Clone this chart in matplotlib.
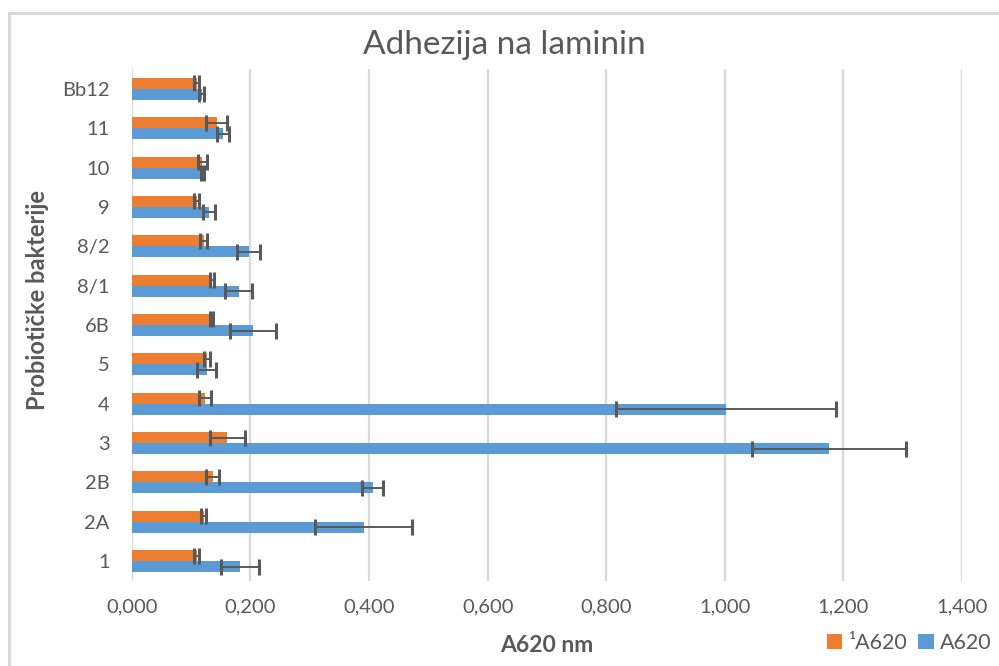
import matplotlib
matplotlib.use("Agg")
import matplotlib.pyplot as plt
import numpy as np
from matplotlib.patches import Rectangle
from matplotlib.ticker import FuncFormatter

# bottom -> top
categories = ["1", "2A", "2B", "3", "4", "5", "6B", "8/1", "8/2", "9", "10", "11", "Bb12"]
a620_sup = [0.109, 0.121, 0.136, 0.161, 0.123, 0.126, 0.134, 0.135, 0.121, 0.109, 0.119, 0.143, 0.109]
a620_sup_err = [0.004, 0.004, 0.011, 0.029, 0.010, 0.005, 0.002, 0.003, 0.006, 0.004, 0.007, 0.018, 0.004]
a620 = [0.182, 0.391, 0.406, 1.175, 1.002, 0.126, 0.204, 0.180, 0.197, 0.130, 0.119, 0.153, 0.118]
a620_err = [0.032, 0.082, 0.018, 0.130, 0.186, 0.016, 0.039, 0.023, 0.019, 0.010, 0.003, 0.010, 0.004]
xticks = [0.0, 0.2, 0.4, 0.6, 0.8, 1.0, 1.2, 1.4]

ORANGE = "#ED7D31"
BLUE = "#5B9BD5"
GREY = "#595959"
plt.rcParams["font.family"] = ["Lato", "DejaVu Sans"]

fig = plt.figure(figsize=(9.99, 6.66), dpi=100)
ax = fig.add_axes([0.132, 0.128, 0.831, 0.768])

y = np.arange(len(categories))
h = 0.28
ebar = dict(ecolor=GREY, elinewidth=1.4, capsize=5.5, capthick=2.2)
ax.barh(y + h / 2, a620_sup, height=h, color=ORANGE, xerr=a620_sup_err,
        error_kw=ebar, label="¹A620", zorder=3)
ax.barh(y - h / 2, a620, height=h, color=BLUE, xerr=a620_err,
        error_kw=ebar, label="A620", zorder=3)

ax.set_xlim(0, 1.4)
ax.set_ylim(-0.5, len(categories) - 0.5)
ax.set_xticks(xticks)
ax.xaxis.set_major_formatter(FuncFormatter(lambda v, p: f"{v:.3f}".replace(".", ",")))
ax.set_yticks(y)
ax.set_yticklabels(categories)
ax.grid(axis="x", color="#D9D9D9", linewidth=1.6, zorder=0)
for s in ax.spines.values():
    s.set_visible(False)
ax.tick_params(length=0, labelsize=14.5, colors=GREY)
ax.tick_params(axis="y", pad=16)
ax.tick_params(axis="x", pad=13)

ax.set_xlabel("A620 nm", fontsize=16.5, fontweight="bold", color=GREY, labelpad=14)
ax.set_ylabel("Probiotičke bakterije", fontsize=17, fontweight="bold", color=GREY)
ax.yaxis.set_label_coords(-0.100, 0.549)
fig.text(0.505, 0.932, "Adhezija na laminin", ha="center", va="center",
         fontsize=24, color=GREY)

leg = fig.legend(loc="center right", bbox_to_anchor=(1.012, 0.035), ncol=2, frameon=False,
                 fontsize=15.5, labelcolor=GREY, handlelength=0.7, handleheight=0.7,
                 handletextpad=0.3, columnspacing=0.5)

# chart area border (right/bottom edges fall outside the picture)
fig.patches.append(Rectangle((0.009, -0.05), 1.1, 0.03 + 1.0, transform=fig.transFigure,
                             fill=False, edgecolor="#D9D9D9", linewidth=2.2))

fig.savefig("out.png", dpi=100)
